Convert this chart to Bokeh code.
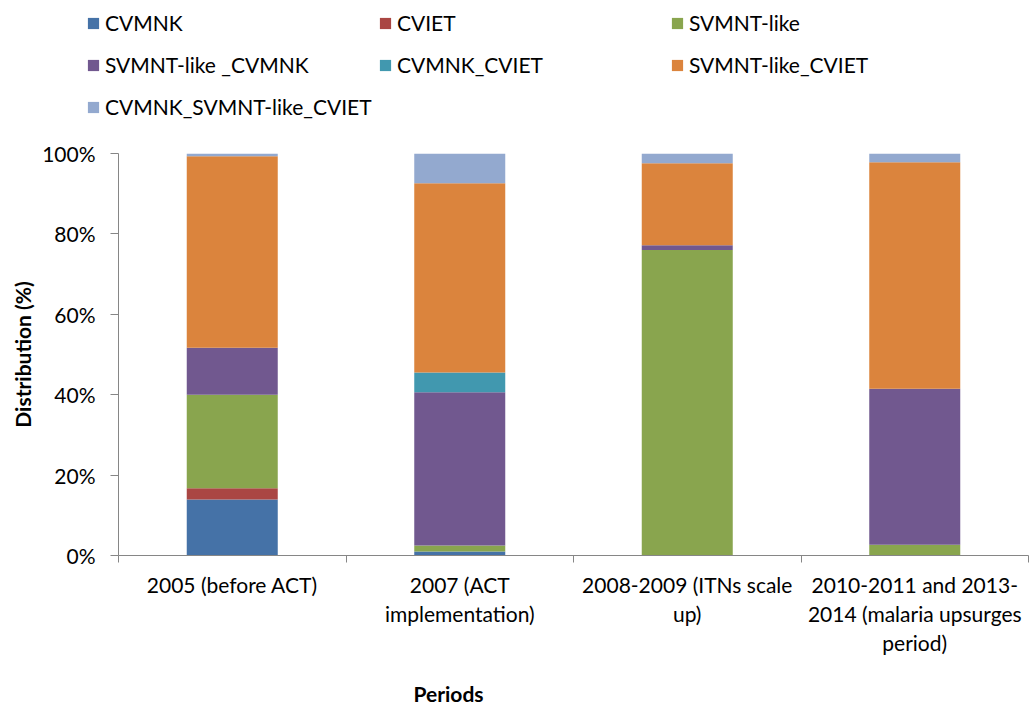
from bokeh.plotting import figure
from bokeh.layouts import column
from bokeh.models import (ColumnDataSource, Range1d, FixedTicker, NumeralTickFormatter,
                          Legend, LegendItem, Title, Label)
from bokeh.embed import file_html
from bokeh.resources import INLINE

# ---- data (percent) ----
periods = ["2005 (before ACT)", "2007 (ACT implementation)",
           "2008-2009 (ITNs scale up)",
           "2010-2011 and 2013-2014 (malaria upsurges period)"]
tick_labels = ["2005 (before ACT)", "2007 (ACT\nimplementation)",
               "2008-2009 (ITNs scale\nup)",
               "2010-2011 and 2013-\n2014 (malaria upsurges\nperiod)"]
series_names = ["CVMNK", "CVIET", "SVMNT-like", "SVMNT-like _CVMNK",
                "CVMNK_CVIET", "SVMNT-like_CVIET", "CVMNK_SVMNT-like_CVIET"]
CVMNK = [13.9, 1.0, 0.0, 0.0]
CVIET = [2.8, 0.0, 0.0, 0.0]
SVMNT_like = [23.3, 1.5, 76.0, 2.7]
SVMNT_like_CVMNK = [11.7, 38.1, 1.2, 38.8]
CVMNK_CVIET = [0.0, 4.9, 0.0, 0.0]
SVMNT_like_CVIET = [47.6, 47.1, 20.4, 56.3]
CVMNK_SVMNT_like_CVIET = [0.7, 7.4, 2.4, 2.2]
colors = ["#4572A7", "#AA4643", "#89A54E", "#71588F", "#4198AF", "#DB843D", "#93A9CF"]
y_ticks = [0, 0.2, 0.4, 0.6, 0.8, 1.0]

series_values = [CVMNK, CVIET, SVMNT_like, SVMNT_like_CVMNK, CVMNK_CVIET,
                 SVMNT_like_CVIET, CVMNK_SVMNT_like_CVIET]
keys = ["s%d" % i for i in range(len(series_values))]
xpos = [i + 0.5 for i in range(len(periods))]
data = {"x": xpos}
for k, vals in zip(keys, series_values):
    data[k] = [v / 100.0 for v in vals]
source = ColumnDataSource(data)

FONT = "Lato"
AXIS_COLOR = "#868686"
TOP_H = 140          # legend strip height
BOT_H = 31           # x-title strip height
LEFT = 118           # main frame left edge


def strip(h):
    f = figure(width=1030, height=h, output_backend="svg", toolbar_location=None,
               x_range=Range1d(0, 1), y_range=Range1d(0, 1),
               x_axis_type=None, y_axis_type=None,
               min_border=0, min_border_left=0, min_border_right=0,
               min_border_top=0, min_border_bottom=0)
    f.outline_line_color = None
    f.grid.visible = False
    return f


# ---- legend strip ----
lg = strip(TOP_H)
can_unalign = "frame_align" in lg.properties()
x0 = 0 if can_unalign else LEFT
# zero-size proxies: they only supply the legend swatches
dummy = [lg.vbar(x=[0], top=[0], bottom=[0], width=0, color=c, line_color=None)
         for c in colors]
items = [LegendItem(label=n, renderers=[r]) for n, r in zip(series_names, dummy)]
legend = Legend(items=items, location=(86 - x0, 15), orientation="horizontal", ncols=3,
                padding=0, margin=0, spacing=5, glyph_width=14, glyph_height=14,
                label_standoff=5, label_width=268, label_height=37,
                label_text_font=FONT, label_text_font_size="21px",
                label_text_color="#000000",
                border_line_color=None, background_fill_alpha=0)
lg.add_layout(legend, "center")

# ---- main chart ----
main_h = 706 - TOP_H - BOT_H
p = figure(width=1030, height=main_h, output_backend="svg", toolbar_location=None,
           x_range=Range1d(0, 4), y_range=Range1d(0, 1),
           min_border_left=LEFT, min_border_right=2, min_border_top=153 - TOP_H,
           min_border_bottom=main_h - (555 - TOP_H))
p.outline_line_color = None
p.grid.visible = False

renderers = p.vbar_stack(keys, x="x", width=0.4, source=source,
                         color=colors, line_color=None)

# x axis
xa = p.xaxis[0]
xa.ticker = FixedTicker(ticks=xpos, minor_ticks=[0, 1, 2, 3, 4])
xa.major_label_overrides = {x: lab for x, lab in zip(xpos, tick_labels)}
xa.major_tick_out = 0
xa.major_tick_in = 0
xa.minor_tick_out = 7
xa.minor_tick_in = 0
xa.minor_tick_line_color = AXIS_COLOR
xa.axis_line_color = AXIS_COLOR
xa.major_label_text_font = FONT
xa.major_label_text_font_size = "21px"
xa.major_label_text_color = "#000000"
xa.major_label_text_line_height = 1.16
xa.major_label_standoff = 9

# y axis
ya = p.yaxis[0]
ya.ticker = FixedTicker(ticks=y_ticks, minor_ticks=[])
ya.formatter = NumeralTickFormatter(format="0%")
ya.major_tick_out = 8
ya.major_tick_in = 0
ya.major_tick_line_color = AXIS_COLOR
ya.axis_line_color = AXIS_COLOR
ya.major_label_text_font = FONT
ya.major_label_text_font_size = "21px"
ya.major_label_text_color = "#000000"
ya.major_label_standoff = 15

p.add_layout(Title(text="Distribution (%)", align="center", standoff=10,
                   text_font=FONT, text_font_size="21px", text_font_style="bold",
                   text_color="#000000"), "left")

# ---- x-title strip ----
bt = strip(BOT_H)
bt.add_layout(Label(x=448 - x0, y=13, x_units="screen", y_units="screen",
                    text="Periods", text_align="center", text_baseline="middle",
                    text_font=FONT, text_font_size="21px", text_font_style="bold",
                    text_color="#000000"))

if can_unalign:
    for f in (lg, p, bt):
        f.frame_align = False

layout = column(lg, p, bt, spacing=0)
open("out.html", "w").write(file_html(layout, INLINE))
